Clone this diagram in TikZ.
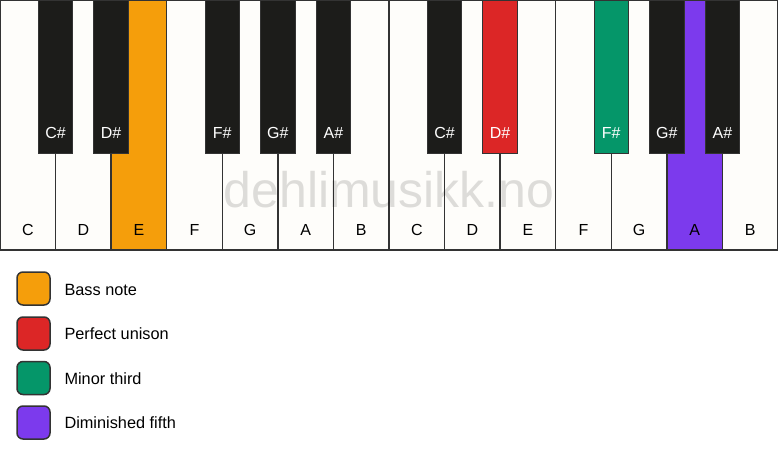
\documentclass[tikz,border=0pt]{standalone}
\usepackage{fontspec}
\setmainfont{Liberation Sans}
\usepackage{xcolor}
\definecolor{keywhite}{HTML}{FEFDFA}
\definecolor{keyblack}{HTML}{1C1C1A}
\definecolor{keyline}{HTML}{333333}
\definecolor{bassnote}{HTML}{F59E0B}
\definecolor{unison}{HTML}{DC2626}
\definecolor{minthird}{HTML}{059669}
\definecolor{dimfifth}{HTML}{7C3AED}
\tikzset{
  whitekey/.style={draw=keyline,line width=1.5pt,fill=keywhite},
  blackkey/.style={draw=keyline,line width=1pt,fill=keyblack},
  whitelabel/.style={font=\fontsize{16}{19}\selectfont,text=black},
  blacklabel/.style={font=\fontsize{16}{19}\selectfont,text=white},
  legendbox/.style={draw=keyline,line width=1.5pt,rounded corners=6pt},
  legendtext/.style={font=\fontsize{16.3}{19}\selectfont,anchor=west}
}
\begin{document}
\begin{tikzpicture}[x=1pt,y=-1pt]
\useasboundingbox (0,0) rectangle (778,461);
\fill [white] (0,0) rectangle (778,461);

\draw  [whitekey](0,0) rectangle (55.57,250);
\draw  [whitekey](55.57,0) rectangle (111.14,250);
\draw  [whitekey,fill=bassnote](111.14,0) rectangle (166.71,250);
\draw  [whitekey](166.71,0) rectangle (222.29,250);
\draw  [whitekey](222.29,0) rectangle (277.86,250);
\draw  [whitekey](277.86,0) rectangle (333.43,250);
\draw  [whitekey](333.43,0) rectangle (389,250);
\draw  [whitekey](389,0) rectangle (444.57,250);
\draw  [whitekey](444.57,0) rectangle (500.14,250);
\draw  [whitekey](500.14,0) rectangle (555.71,250);
\draw  [whitekey](555.71,0) rectangle (611.29,250);
\draw  [whitekey](611.29,0) rectangle (666.86,250);
\draw  [whitekey,fill=dimfifth](666.86,0) rectangle (722.43,250);
\draw  [whitekey](722.43,0) rectangle (778,250);

\node [whitelabel] (c1) at (27.79,230) {C};
\node [whitelabel] (d1) at (83.36,230) {D};
\node [whitelabel] (e1) at (138.93,230) {E};
\node [whitelabel] (f1) at (194.5,230) {F};
\node [whitelabel] (g1) at (250.07,230) {G};
\node [whitelabel] (a1) at (305.64,230) {A};
\node [whitelabel] (b1) at (361.21,230) {B};
\node [whitelabel] (c2) at (416.79,230) {C};
\node [whitelabel] (d2) at (472.36,230) {D};
\node [whitelabel] (e2) at (527.93,230) {E};
\node [whitelabel] (f2) at (583.5,230) {F};
\node [whitelabel] (g2) at (639.07,230) {G};
\node [whitelabel] (a2) at (694.64,230) {A};
\node [whitelabel] (b2) at (750.21,230) {B};

\draw  [blackkey](38.32,0) rectangle (72.82,153);
\draw  [blackkey](93.89,0) rectangle (128.39,153);
\draw  [blackkey](205.04,0) rectangle (239.54,153);
\draw  [blackkey](260.61,0) rectangle (295.11,153);
\draw  [blackkey](316.18,0) rectangle (350.68,153);
\draw  [blackkey](427.32,0) rectangle (461.82,153);
\draw  [blackkey,fill=unison](482.89,0) rectangle (517.39,153);
\draw  [blackkey,fill=minthird](594.04,0) rectangle (628.54,153);
\draw  [blackkey](649.61,0) rectangle (684.11,153);
\draw  [blackkey](705.18,0) rectangle (739.68,153);

\node [blacklabel] (cs1) at (55.57,133) {C\#};
\node [blacklabel] (ds1) at (111.14,133) {D\#};
\node [blacklabel] (fs1) at (222.29,133) {F\#};
\node [blacklabel] (gs1) at (277.86,133) {G\#};
\node [blacklabel] (as1) at (333.43,133) {A\#};
\node [blacklabel] (cs2) at (444.57,133) {C\#};
\node [blacklabel] (ds2) at (500.14,133) {D\#};
\node [blacklabel] (fs2) at (611.29,133) {F\#};
\node [blacklabel] (gs2) at (666.86,133) {G\#};
\node [blacklabel] (as2) at (722.43,133) {A\#};

\node [anchor=base,font=\fontsize{50}{54}\selectfont,text=black,text opacity=0.13] (mark) at (389,207) {dehlimusikk.no};

\draw  [legendbox,fill=bassnote](17,272) rectangle (50,305);
\draw  [legendbox,fill=unison](17,317) rectangle (50,350);
\draw  [legendbox,fill=minthird](17,361.5) rectangle (50,394.5);
\draw  [legendbox,fill=dimfifth](17,406) rectangle (50,439);

\node [legendtext] (bass) at (61,289.5) {Bass note};
\node [legendtext] (perf) at (61,334) {Perfect unison};
\node [legendtext] (third) at (61,378.5) {Minor third};
\node [legendtext] (fifth) at (61,423) {Diminished fifth};

\end{tikzpicture}
\end{document}
